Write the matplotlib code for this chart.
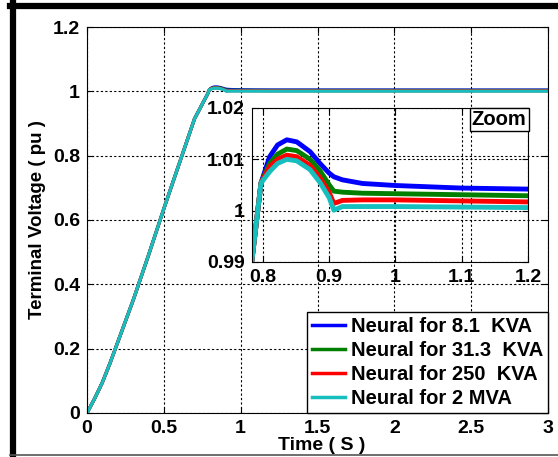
import matplotlib.pyplot as plt
from matplotlib.lines import Line2D

plt.rcParams['font.family'] = ['Liberation Sans', 'DejaVu Sans']
plt.rcParams['font.weight'] = 'bold'

# shared rise of the terminal voltage
t_rise = [0, 0.05, 0.1, 0.15, 0.2, 0.3, 0.4, 0.5, 0.6, 0.7, 0.783, 0.797]
v_rise = [0, 0.045, 0.095, 0.155, 0.22, 0.35, 0.49, 0.635, 0.775, 0.915, 0.99, 1.0054]

# tails per controller
t_tail = [0.81, 0.822, 0.836, 0.851, 0.871, 0.886, 0.9, 0.907, 0.92, 0.95, 1.0, 1.1, 1.2, 3.0]
v_81kva = [1.0105, 1.0128, 1.0138, 1.0134, 1.0115, 1.0092, 1.0073, 1.0066, 1.0060, 1.0053, 1.0049, 1.0044, 1.0042, 1.0041]
v_313kva = [1.0092, 1.0110, 1.0120, 1.0117, 1.0100, 1.0078, 1.0050, 1.0038, 1.0036, 1.0034, 1.0033, 1.0031, 1.0029, 1.0029]
v_250kva = [1.0086, 1.0100, 1.0108, 1.0105, 1.0088, 1.0064, 1.0035, 1.0014, 1.0020, 1.0021, 1.0021, 1.0019, 1.0017, 1.0017]
v_2mva = [1.0076, 1.0092, 1.0100, 1.0097, 1.0080, 1.0055, 1.0025, 1.0001, 1.0008, 1.0008, 1.0008, 1.0007, 1.0006, 1.0006]

labels = ['Neural for 8.1  KVA', 'Neural for 31.3  KVA', 'Neural for 250  KVA', 'Neural for 2 MVA']
colors = ['#0000ff', '#007f00', '#ff0000', '#17bebe']
series = [v_81kva, v_313kva, v_250kva, v_2mva]

x_ticks = [0, 0.5, 1, 1.5, 2, 2.5, 3]
x_ticklabels = ['0', '0.5', '1', '1.5', '2', '2.5', '3']
y_ticks = [0, 0.2, 0.4, 0.6, 0.8, 1.0, 1.2]
y_ticklabels = ['0', '0.2', '0.4', '0.6', '0.8', '1', '1.2']
zx_ticks = [0.8, 0.9, 1.0, 1.1, 1.2]
zx_ticklabels = ['0.8', '0.9', '1', '1.1', '1.2']
zy_ticks = [0.99, 1.0, 1.01, 1.02]
zy_ticklabels = ['0.99', '1', '1.01', '1.02']

fig = plt.figure(figsize=(5.58, 4.57), dpi=100)
ax = fig.add_axes([0.1559, 0.0963, 0.8262, 0.8446])

for v, c, lab in zip(series, colors, labels):
    ax.plot(t_rise + t_tail, v_rise + v, color=c, lw=2.3, label=lab)

ax.set_xlim(0, 3)
ax.set_ylim(0, 1.2)
ax.set_xticks(x_ticks)
ax.set_xticklabels(x_ticklabels)
ax.set_yticks(y_ticks)
ax.set_yticklabels(y_ticklabels)
ax.tick_params(direction='in', top=True, right=True, length=4, labelsize=14, pad=5)
ax.grid(True, color='black', linestyle=(0, (2, 2)), linewidth=0.8)
ax.set_xlabel('Time ( S )', fontsize=14, fontweight='bold')
ax.xaxis.set_label_coords(0.51, -0.062)
ax.set_ylabel('Terminal Voltage ( pu )', fontsize=13.5, fontweight='bold', labelpad=5)

leg = ax.legend(loc='lower right', fontsize=14.5, frameon=True, fancybox=False,
                edgecolor='black', framealpha=1, borderaxespad=0, labelspacing=0.25,
                handlelength=1.6, handletextpad=0.3, borderpad=0.25)
leg.get_frame().set_linewidth(1.0)
for h in leg.get_lines():
    h.set_linewidth(2.5)

# zoom inset
axz = fig.add_axes([0.4516, 0.4267, 0.4946, 0.337])
axz.set_facecolor('none')
for v, c in zip(series, colors):
    axz.plot(t_rise + t_tail, v_rise + v, color=c, lw=3.5)
axz.set_xlim(0.7834, 1.2)
axz.set_ylim(0.99, 1.02)
axz.set_xticks(zx_ticks)
axz.set_xticklabels(zx_ticklabels)
axz.set_yticks(zy_ticks)
axz.set_yticklabels(zy_ticklabels)
axz.tick_params(direction='in', top=True, right=True, length=4, labelsize=14, pad=5)
axz.grid(True, color='black', linestyle=(0, (2, 2)), linewidth=0.8)
axz.text(0.995, 0.985, 'Zoom', transform=axz.transAxes, ha='right', va='top',
         fontsize=14.5, fontweight='bold',
         bbox=dict(boxstyle='square,pad=0.1', fc='white', ec='black', lw=1))

# outer frame of the picture
fig.add_artist(Line2D([13 / 558, 13 / 558], [1 - 3 / 457, 1 - 455 / 457],
                      transform=fig.transFigure, color='black', lw=4.5))
fig.add_artist(Line2D([10 / 558, 1], [1 - 6 / 457, 1 - 6 / 457],
                      transform=fig.transFigure, color='black', lw=4.5))
fig.add_artist(Line2D([10 / 558, 1], [1 - 455 / 457, 1 - 455 / 457],
                      transform=fig.transFigure, color='#555555', lw=1.2))

fig.savefig('out.png', dpi=100)
